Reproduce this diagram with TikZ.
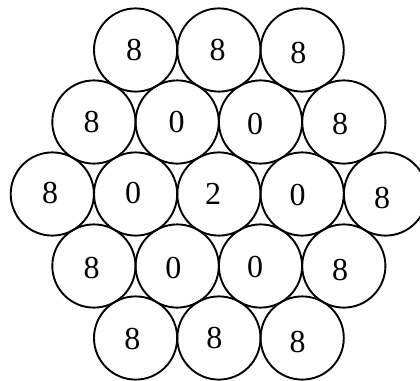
\documentclass[tikz,border=0pt]{standalone}
\usepackage{fontspec}
\setmainfont{Liberation Serif}
\begin{document}
\begin{tikzpicture}[x=1pt,y=-1pt,
  cell/.style={circle,draw,line width=1.9pt,minimum size=83.2pt,inner sep=0pt},
  num/.style={inner sep=0pt,font=\fontsize{32}{36}\selectfont}]
\useasboundingbox (0,0) rectangle (420,380);
\clip (0,0) rectangle (420,380);
% row 1
\node[cell] (c11) at (135.6,50) {};
\node[cell] (c12) at (218.9,50) {};
\node[cell] (c13) at (302.2,50) {};
% row 2
\node[cell] (c21) at (93.9,122) {};
\node[cell] (c22) at (177.2,122) {};
\node[cell] (c23) at (260.5,122) {};
\node[cell] (c24) at (343.8,122) {};
% row 3
\node[cell] (c31) at (52.3,194) {};
\node[cell] (c32) at (135.6,194) {};
\node[cell] (c33) at (218.9,194) {};
\node[cell] (c34) at (302.2,194) {};
\node[cell] (c35) at (385.5,194) {};
% row 4
\node[cell] (c41) at (93.9,266) {};
\node[cell] (c42) at (177.2,266) {};
\node[cell] (c43) at (260.5,266) {};
\node[cell] (c44) at (343.8,266) {};
% row 5
\node[cell] (c51) at (135.6,338) {};
\node[cell] (c52) at (218.9,338) {};
\node[cell] (c53) at (302.2,338) {};
% labels
\node[num] (t11) at (134,50.5) {8};
\node[num] (t12) at (217.7,50) {8};
\node[num] (t13) at (298.3,53) {8};
\node[num] (t21) at (91.7,122.5) {8};
\node[num] (t22) at (176.7,122) {0};
\node[num] (t23) at (255,124) {0};
\node[num] (t24) at (340,124) {8};
\node[num] (t31) at (50,193) {8};
\node[num] (t32) at (133,193) {0};
\node[num] (t33) at (213,194) {2};
\node[num] (t34) at (297.7,195) {0};
\node[num] (t35) at (382,198) {8};
\node[num] (t41) at (91.7,268) {8};
\node[num] (t42) at (173.3,268) {0};
\node[num] (t43) at (255,267) {0};
\node[num] (t44) at (340,270.5) {8};
\node[num] (t51) at (132.3,339) {8};
\node[num] (t52) at (214.3,337.7) {8};
\node[num] (t53) at (297.7,341.7) {8};
\end{tikzpicture}
\end{document}
